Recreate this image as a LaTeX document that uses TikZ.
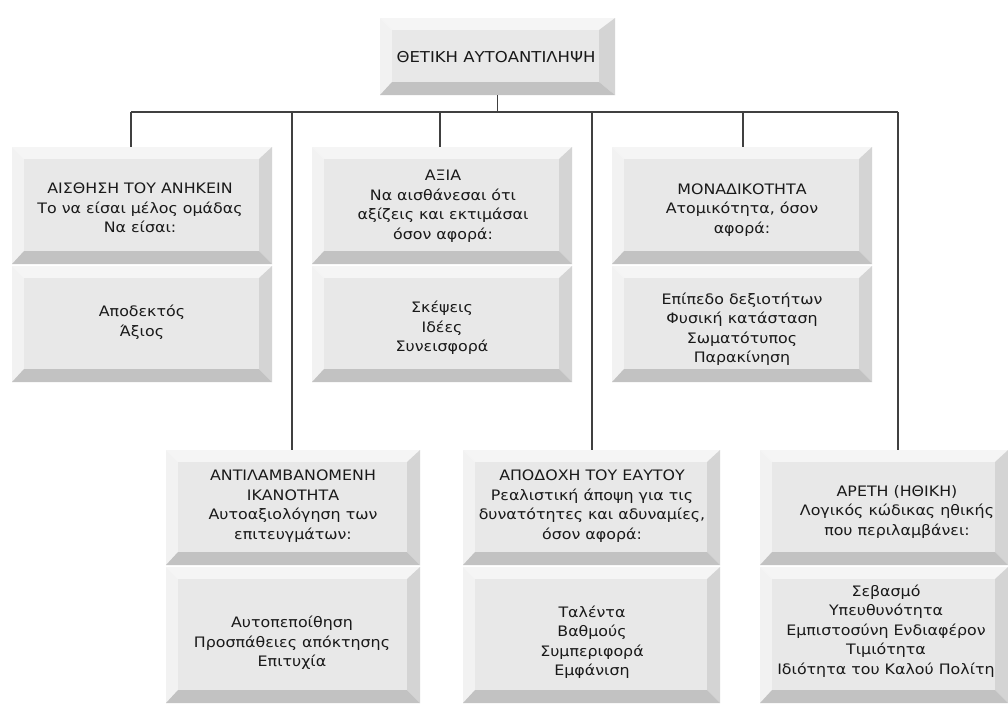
\documentclass[tikz,border=0pt]{standalone}
\usepackage{fontspec}
\setmainfont{DejaVu Sans}[FakeStretch=1.1]
\usetikzlibrary{calc,fit}

% bevel widths: left, top, right, bottom
\def\bevL{12}
\def\bevT{12}
\def\bevR{13}
\def\bevB{13}

\tikzset{
  bvface/.style={fill=black!9},
  bvtop/.style={fill=black!4},
  bvleft/.style={fill=black!5},
  bvright/.style={fill=black!17},
  bvbottom/.style={fill=black!24},
  label/.style={align=center, text=black!90, inner sep=0pt,
    font=\fontsize{14.4}{19.5}\selectfont},
  title/.style={label, font=\fontsize{15}{18}\selectfont},
  link/.style={draw=black!75, line width=1.2pt},
}

% bevelled slab: name, x1, y1, x2, y2
\newcommand\bevelbox[5]{%
  \fill[bvtop] (#2,#3) -- (#4,#3) -- ({#4-\bevR},{#3+\bevT}) -- ({#2+\bevL},{#3+\bevT}) -- cycle;
  \fill[bvleft] (#2,#3) -- ({#2+\bevL},{#3+\bevT}) -- ({#2+\bevL},{#5-\bevB}) -- (#2,#5) -- cycle;
  \fill[bvright] (#4,#3) -- (#4,#5) -- ({#4-\bevR},{#5-\bevB}) -- ({#4-\bevR},{#3+\bevT}) -- cycle;
  \fill[bvbottom] (#2,#5) -- (#4,#5) -- ({#4-\bevR},{#5-\bevB}) -- ({#2+\bevL},{#5-\bevB}) -- cycle;
  \fill[bvface] ({#2+\bevL},{#3+\bevT}) rectangle ({#4-\bevR},{#5-\bevB});
  \node[fit={(#2,#3) (#4,#5)}, inner sep=0pt, outer sep=0pt] (#1) {};
}

\begin{document}
\begin{tikzpicture}[x=1pt,y=-1pt]
\useasboundingbox[fill=white] (0,0) rectangle (1008,704);

% root
{\def\bevR{16}\bevelbox{root}{380}{18}{615}{95}}
\node[title] (troot) at (496,57) {ΘΕΤΙΚΗ ΑΥΤΟΑΝΤΙΛΗΨΗ};

% first row
\bevelbox{b1u}{12}{147}{272}{264}
\bevelbox{b1l}{12}{266}{272}{382}
\bevelbox{b2u}{312}{147}{572}{264}
\bevelbox{b2l}{312}{266}{572}{382}
\bevelbox{b3u}{612}{147}{872}{264}
\bevelbox{b3l}{612}{266}{872}{382}

% second row
\bevelbox{b4u}{166}{450}{420}{565}
\bevelbox{b4l}{166}{567}{420}{703}
\bevelbox{b5u}{463}{450}{720}{565}
\bevelbox{b5l}{463}{567}{720}{703}
\bevelbox{b6u}{760}{450}{1008}{565}
\bevelbox{b6l}{760}{567}{1008}{703}

% texts of the first row
\node[label] (h1) at (140,208) {ΑΙΣΘΗΣΗ ΤΟΥ ΑΝΗΚΕΙΝ\\Το να είσαι μέλος ομάδας\\Να είσαι:};
\node[label] (l1) at (142,322) {Αποδεκτός\\Άξιος};
\node[label] (h2) at (443,206) {ΑΞΙΑ\\Να αισθάνεσαι ότι\\αξίζεις και εκτιμάσαι\\όσον αφορά:};
\node[label] (l2) at (442,328) {Σκέψεις\\Ιδέες\\Συνεισφορά};
\node[label] (h3) at (742,210) {ΜΟΝΑΔΙΚΟΤΗΤΑ\\Ατομικότητα, όσον\\αφορά:};
\node[label] (l3) at (742,329) {Επίπεδο δεξιοτήτων\\Φυσική κατάσταση\\Σωματότυπος\\Παρακίνηση};

% texts of the second row
\node[label] (h4) at (293,506) {ΑΝΤΙΛΑΜΒΑΝΟΜΕΝΗ\\ΙΚΑΝΟΤΗΤΑ\\Αυτοαξιολόγηση των\\επιτευγμάτων:};
\node[label] (l4) at (292,643) {Αυτοπεποίθηση\\Προσπάθειες απόκτησης\\Επιτυχία};
\node[label] (h5) at (592,506) {ΑΠΟΔΟΧΗ ΤΟΥ ΕΑΥΤΟΥ\\Ρεαλιστική άποψη για τις\\δυνατότητες και αδυναμίες,\\όσον αφορά:};
\node[label] (l5) at (592,642) {Ταλέντα\\Βαθμούς\\Συμπεριφορά\\Εμφάνιση};
\node[label] (h6) at (897,512) {ΑΡΕΤΗ (ΗΘΙΚΗ)\\Λογικός κώδικας ηθικής\\που περιλαμβάνει:};
\node[label] (l6) at (886,631) {Σεβασμό\\Υπευθυνότητα\\Εμπιστοσύνη Ενδιαφέρον\\Τιμιότητα\\Ιδιότητα του Καλού Πολίτη};

% connectors: trunk, bus and drops
\coordinate (j1) at (131,112);
\coordinate (j2) at (292,112);
\coordinate (j3) at (440,112);
\coordinate (j4) at (592,112);
\coordinate (j5) at (743,112);
\coordinate (j6) at (898,112);
\draw[link] (root.south) -- (root.south |- j1);
\draw[link] (j1) -- (j6);
\draw[link] (j1) -- (j1 |- b1u.north);
\draw[link] (j2) -- (j2 |- b4u.north);
\draw[link] (j3) -- (j3 |- b2u.north);
\draw[link] (j4) -- (j4 |- b5u.north);
\draw[link] (j5) -- (j5 |- b3u.north);
\draw[link] (j6) -- (j6 |- b6u.north);
\end{tikzpicture}
\end{document}
